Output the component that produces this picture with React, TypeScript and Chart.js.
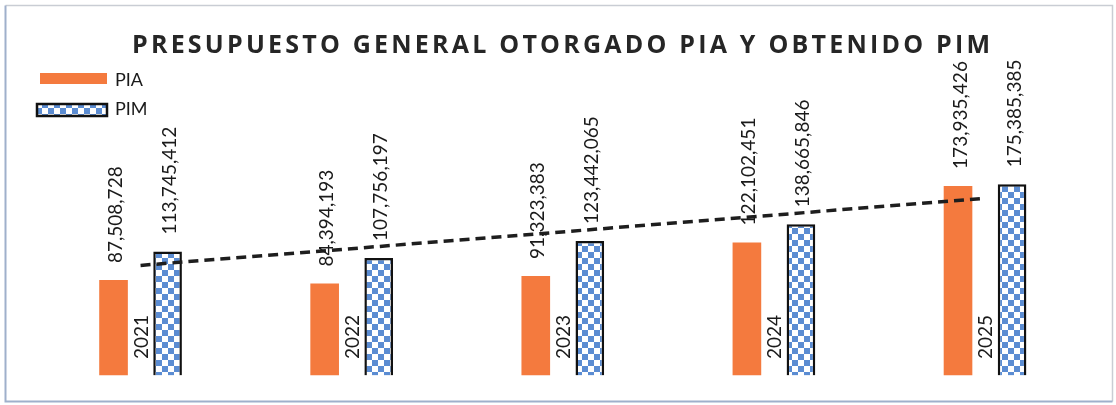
import React, { useEffect, useRef } from "react";
import { Chart, registerables } from "chart.js";

Chart.register(...registerables);

const categories = ["2021", "2022", "2023", "2024", "2025"];
const seriesLabels = ["PIA", "PIM"];
const piaValues = [87508728, 84394193, 91323383, 122102451, 173935426];
const pimValues = [113745412, 107756197, 123442065, 138665846, 175385385];
// dashed trend line: values read at the first and last category
const trendValues = [101000000, null, null, null, 162600000];
const titleText = "PRESUPUESTO GENERAL OTORGADO PIA Y OBTENIDO PIM";

const ORANGE = "#f47a3e";
const BLUE = "#5b8cd2";
const FONT = "Lato, 'Open Sans', sans-serif";
const TITLE_FONT = "'Open Sans', Lato, sans-serif";

function makeChecker(): CanvasPattern | string {
  const c = document.createElement("canvas");
  const s = 6;
  c.width = s * 2;
  c.height = s * 2;
  const g = c.getContext("2d");
  if (!g) return BLUE;
  g.fillStyle = "#ffffff";
  g.fillRect(0, 0, s * 2, s * 2);
  g.fillStyle = BLUE;
  g.fillRect(0, 0, s, s);
  g.fillRect(s, s, s, s);
  const p = g.createPattern(c, "repeat");
  return p || BLUE;
}

const fmt = (v: number) => v.toLocaleString("en-US");

const decorPlugin = {
  id: "decor",
  beforeDraw(chart: any) {
    const ctx = chart.ctx;
    ctx.save();
    ctx.fillStyle = "#ffffff";
    ctx.fillRect(0, 0, chart.width, chart.height);
    ctx.strokeStyle = "#c9cdd4";
    ctx.lineWidth = 1.5;
    ctx.beginPath();
    ctx.moveTo(5.5, 5.5);
    ctx.lineTo(1112.5, 5.5);
    ctx.lineTo(1112.5, 401.5);
    ctx.stroke();
    ctx.strokeStyle = "#9fb0cb";
    ctx.lineWidth = 2;
    ctx.beginPath();
    ctx.moveTo(5.5, 5.5);
    ctx.lineTo(5.5, 401.5);
    ctx.lineTo(1112.5, 401.5);
    ctx.stroke();
    ctx.restore();
  },
  afterDatasetsDraw(chart: any) {
    const ctx = chart.ctx;
    ctx.save();
    ctx.fillStyle = "#1a1a1a";
    ctx.font = `19px ${FONT}`;
    chart.data.datasets.forEach((ds: any, di: number) => {
      if (ds.type === "line") return;
      const meta = chart.getDatasetMeta(di);
      meta.data.forEach((el: any, i: number) => {
        const v = ds.data[i];
        ctx.save();
        ctx.translate(el.x + 8.5, el.y - 17);
        ctx.rotate(-Math.PI / 2);
        ctx.textAlign = "left";
        ctx.textBaseline = "alphabetic";
        ctx.fillText(fmt(v), 0, 0);
        ctx.restore();
      });
    });
    const xs = chart.scales.x;
    const ys = chart.scales.y;
    const base = ys.getPixelForValue(0);
    categories.forEach((cat, i) => {
      const x = xs.getPixelForValue(i);
      ctx.save();
      ctx.translate(x + 7, base - 16.5);
      ctx.rotate(-Math.PI / 2);
      ctx.textAlign = "left";
      ctx.textBaseline = "alphabetic";
      ctx.fillText(cat, 0, 0);
      ctx.restore();
    });
    ctx.restore();
  },
  afterDraw(chart: any) {
    const ctx = chart.ctx;
    ctx.save();
    ctx.fillStyle = "#262626";
    ctx.font = `bold 25px ${TITLE_FONT}`;
    ctx.textAlign = "left";
    ctx.textBaseline = "alphabetic";
    const target = 858;
    (ctx as any).letterSpacing = "0px";
    const w0 = ctx.measureText(titleText).width;
    const sp = (target - w0) / (titleText.length - 1);
    (ctx as any).letterSpacing = `${sp}px`;
    ctx.fillText(titleText, 561 - target / 2, 53);
    (ctx as any).letterSpacing = "0px";

    const ds = chart.data.datasets.filter((d: any) => d.type !== "line");
    ctx.font = `18px ${FONT}`;
    ctx.fillStyle = ds[0].backgroundColor;
    ctx.fillRect(40, 73, 67, 11);
    ctx.fillStyle = ds[1].backgroundColor;
    ctx.fillRect(37, 104, 70, 12);
    ctx.strokeStyle = "#111111";
    ctx.lineWidth = 2.5;
    ctx.strokeRect(37, 104, 70, 12);
    ctx.fillStyle = "#1a1a1a";
    ctx.textBaseline = "middle";
    ctx.fillText(ds[0].label, 115, 80);
    ctx.fillText(ds[1].label, 115, 109);
    ctx.restore();
  },
};

export default function App() {
  const ref = useRef<HTMLCanvasElement | null>(null);
  useEffect(() => {
    document.body.style.margin = "0";
    if (!ref.current) return;
    const checker = makeChecker();
    const chart = new Chart(ref.current, {
      type: "bar",
      data: {
        labels: categories,
        datasets: [
          {
            type: "line",
            label: "Tendencia",
            data: trendValues as any,
            spanGaps: true,
            borderColor: "#1e1e1e",
            borderWidth: 3.5,
            borderDash: [10, 6],
            pointRadius: 0,
            fill: false,
            order: 0,
          } as any,
          {
            type: "bar",
            label: seriesLabels[0],
            data: piaValues,
            backgroundColor: ORANGE,
            borderWidth: 0,
            categoryPercentage: 0.512,
            barPercentage: 0.53,
            order: 1,
          },
          {
            type: "bar",
            label: seriesLabels[1],
            data: pimValues,
            backgroundColor: checker as any,
            borderColor: "#111111",
            borderWidth: 2.5,
            categoryPercentage: 0.512,
            barPercentage: 0.53,
            order: 1,
          },
        ],
      },
      options: {
        responsive: false,
        animation: false,
        devicePixelRatio: 1,
        layout: { padding: { left: 35, right: 25.4, top: 103, bottom: 29.5 } },
        plugins: {
          legend: { display: false },
          title: { display: false },
          tooltip: { enabled: false },
        },
        scales: {
          x: { display: false, offset: true },
          y: { display: false, min: 0, max: 250000000 },
        },
      },
      plugins: [decorPlugin],
    });
    return () => chart.destroy();
  }, []);
  return (
    <div style={{ width: 1116, height: 405 }}>
      <canvas ref={ref} width={1116} height={405} />
    </div>
  );
}
